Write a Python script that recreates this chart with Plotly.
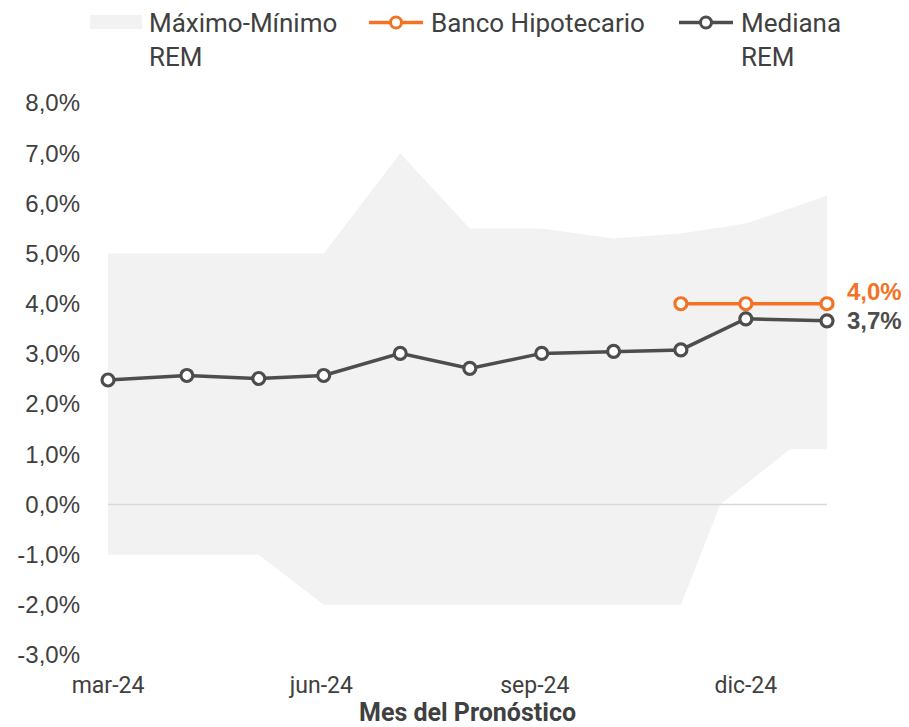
import plotly.graph_objects as go

# ---------------- data ----------------
dates = ["2024-03-01", "2024-04-04", "2024-05-05", "2024-06-02", "2024-07-05",
         "2024-08-04", "2024-09-04", "2024-10-05", "2024-11-03", "2024-12-01",
         "2025-01-05"]
mediana_rem = [2.48, 2.57, 2.51, 2.57, 3.01, 2.71, 3.01, 3.05, 3.08, 3.70, 3.66]

maximo_rem = [5.0, 5.0, 5.0, 5.0, 7.0, 5.5, 5.5, 5.3, 5.4, 5.6, 6.15]

minimo_dates = ["2024-03-01", "2024-04-04", "2024-05-05", "2024-06-02", "2024-07-05",
                "2024-08-04", "2024-09-04", "2024-10-05", "2024-11-03", "2024-11-20",
                "2024-12-20", "2025-01-05"]
minimo_rem = [-1.0, -1.0, -1.0, -2.0, -2.0, -2.0, -2.0, -2.0, -2.0, 0.0, 1.1, 1.1]

hipotecario_dates = ["2024-11-03", "2024-12-01", "2025-01-05"]
banco_hipotecario = [4.0, 4.0, 4.0]

tick_dates = ["2024-03-01", "2024-06-01", "2024-09-01", "2024-12-01"]
tick_labels = ["mar-24", "jun-24", "sep-24", "dic-24"]

y_tick_values = [-3, -2, -1, 0, 1, 2, 3, 4, 5, 6, 7, 8]
y_tick_labels = ["-3,0%", "-2,0%", "-1,0%", "0,0%", "1,0%", "2,0%", "3,0%",
                 "4,0%", "5,0%", "6,0%", "7,0%", "8,0%"]

series_names = ["Máximo-Mínimo<br>REM", "Banco Hipotecario", "Mediana<br>REM"]
x_title = "Mes del Pronóstico"

# ---------------- styles ----------------
W, H = 909, 727
ML, MR, MT, MB = 108, 82, 103, 72
ORANGE = "#F37325"
DARK = "#4D4D4D"
BAND = "#F2F2F2"
TXT = "#404040"
SANS = "Roboto"
ARIAL = "Liberation Sans, Arial"

def px2x(px):
    return (px - ML) / (W - ML - MR)

def py2y(py):
    return (H - MB - py) / (H - MT - MB)

fig = go.Figure()

# band (max-min)
fig.add_trace(go.Scatter(
    x=dates + minimo_dates[::-1],
    y=maximo_rem + minimo_rem[::-1],
    fill="toself", fillcolor=BAND, line=dict(width=0), mode="lines",
    name=series_names[0], hoverinfo="skip", showlegend=False,
))

# Banco Hipotecario
fig.add_trace(go.Scatter(
    x=hipotecario_dates, y=banco_hipotecario, mode="lines+markers",
    name=series_names[1], showlegend=False, cliponaxis=False,
    line=dict(color=ORANGE, width=3.5),
    marker=dict(symbol="circle", size=12, color="white", line=dict(color=ORANGE, width=3.2)),
))

# Mediana REM
fig.add_trace(go.Scatter(
    x=dates, y=mediana_rem, mode="lines+markers",
    name=series_names[2], showlegend=False, cliponaxis=False,
    line=dict(color=DARK, width=3.5),
    marker=dict(symbol="circle", size=12, color="white", line=dict(color=DARK, width=3.2)),
))

def fmt(v):
    return f"{v:.1f}".replace(".", ",") + "%"

annotations = [
    dict(x=hipotecario_dates[-1], y=banco_hipotecario[-1], xref="x", yref="y",
         text="<b>" + fmt(banco_hipotecario[-1]) + "</b>", showarrow=False,
         xanchor="left", yanchor="middle", xshift=18, yshift=12,
         font=dict(family=ARIAL, size=24, color=ORANGE)),
    dict(x=dates[-1], y=mediana_rem[-1], xref="x", yref="y",
         text="<b>" + fmt(mediana_rem[-1]) + "</b>", showarrow=False,
         xanchor="left", yanchor="middle", xshift=18, yshift=0,
         font=dict(family=ARIAL, size=24, color=DARK)),
    # x-axis title
    dict(x=0.5, y=py2y(712.5), xref="paper", yref="paper",
         text="<b>" + x_title + "</b>", showarrow=False,
         xanchor="center", yanchor="middle", borderpad=0,
         font=dict(family=SANS, size=25, color=TXT)),
]

# zero line drawn over the band
shapes = [
    dict(type="line", xref="paper", yref="y", x0=0, x1=1, y0=0, y1=0,
         line=dict(color="#D9D9D9", width=1.5), layer="above"),
]

# manual legend
legend_y = 22.5
shapes.append(dict(type="rect", xref="paper", yref="paper",
                   x0=px2x(90), x1=px2x(142), y0=py2y(29), y1=py2y(15),
                   fillcolor=BAND, line=dict(width=0), layer="above"))
for x0, col in [(369, ORANGE), (679, DARK)]:
    shapes.append(dict(type="line", xref="paper", yref="paper",
                       x0=px2x(x0), x1=px2x(x0 + 54), y0=py2y(legend_y), y1=py2y(legend_y),
                       line=dict(color=col, width=3.5)))
    cx = x0 + 27
    shapes.append(dict(type="circle", xref="paper", yref="paper",
                       x0=px2x(cx - 5.5), x1=px2x(cx + 5.5),
                       y0=py2y(legend_y + 5.5), y1=py2y(legend_y - 5.5),
                       fillcolor="white", line=dict(color=col, width=3)))

for xt, name in zip([147, 429, 739], series_names):
    annotations.append(dict(
        x=px2x(xt), y=py2y(6), xref="paper", yref="paper", text=name,
        showarrow=False, xanchor="left", yanchor="top", align="left",
        font=dict(family=SANS, size=26, color=TXT)))

fig.update_layout(
    width=W, height=H,
    margin=dict(l=ML, r=MR, t=MT, b=MB, autoexpand=False),
    paper_bgcolor="white", plot_bgcolor="white",
    showlegend=False,
    shapes=shapes,
    annotations=annotations,
    xaxis=dict(
        type="date", range=[dates[0], dates[-1]], automargin=False,
        tickvals=tick_dates, ticktext=tick_labels,
        showgrid=False, showline=False, zeroline=False, ticks="",
        ticklabelstandoff=14,
        tickfont=dict(family=SANS, size=23, color=TXT),
    ),
    yaxis=dict(
        range=[-3, 8], automargin=False,
        tickvals=y_tick_values, ticktext=y_tick_labels,
        showgrid=False, showline=False, ticks="", zeroline=False,
        ticklabelstandoff=27,
        tickfont=dict(family=ARIAL, size=24, color=TXT),
    ),
)

fig.write_html("out.html", config={"displayModeBar": False},
               post_script="document.body.style.margin='0';")
